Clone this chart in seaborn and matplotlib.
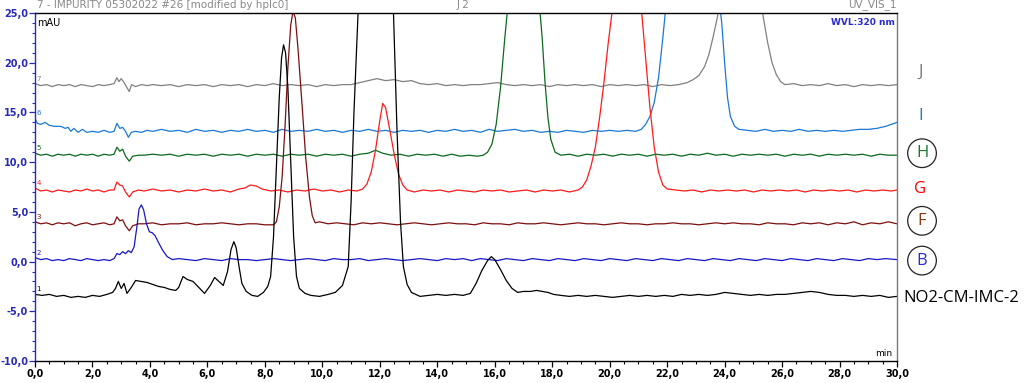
import pandas as pd
import matplotlib
matplotlib.use("Agg")
import matplotlib.pyplot as plt
from matplotlib.ticker import MultipleLocator, FuncFormatter
import seaborn as sns

# chromatogram traces, (time in min, signal in mAU)
trace_j = [(0.0,17.9),(0.2,17.7),(0.4,17.8),(0.6,17.6),(0.8,17.8),(1.0,17.7),(1.2,17.8),(1.4,17.6),(1.6,17.8),(1.8,17.7),(2.0,17.6),(2.2,17.8),(2.4,17.7),(2.6,17.8),(2.75,17.9),(2.85,18.5),(2.92,18.1),(3.0,18.4),(3.1,18.0),(3.2,17.5),(3.28,17.1),(3.36,17.8),(3.5,17.6),(3.7,17.8),(3.9,17.7),(4.1,17.8),(4.4,17.7),(4.7,17.8),(5.0,17.6),(5.3,17.8),(5.6,17.7),(5.9,17.8),(6.2,17.6),(6.5,17.8),(6.8,17.7),(7.1,17.8),(7.4,17.6),(7.7,17.8),(8.0,17.7),(8.3,17.9),(8.6,17.7),(8.9,17.8),(9.2,17.7),(9.5,17.8),(9.8,17.6),(10.1,17.8),(10.4,17.7),(10.7,17.8),(11.0,17.8),(11.3,18.0),(11.6,18.2),(11.9,18.4),(12.2,18.2),(12.5,18.3),(12.8,18.1),(13.1,18.2),(13.4,17.9),(13.7,17.8),(14.0,17.9),(14.3,17.7),(14.6,17.8),(14.9,17.7),(15.2,17.8),(15.5,17.8),(15.8,17.9),(16.1,18.0),(16.4,17.8),(16.7,17.7),(17.0,17.8),(17.3,17.7),(17.6,17.8),(17.9,17.6),(18.2,17.8),(18.5,17.7),(18.8,17.8),(19.1,17.7),(19.4,17.8),(19.7,17.6),(20.0,17.8),(20.3,17.7),(20.6,17.8),(20.9,17.7),(21.2,17.8),(21.5,17.6),(21.8,17.8),(22.1,17.7),(22.4,17.8),(22.7,18.0),(22.9,18.3),(23.1,18.7),(23.3,19.6),(23.45,20.8),(23.6,22.6),(23.75,24.6),(23.9,27.5),(24.3,31.0),(24.6,32.0),(24.9,30.0),(25.2,27.0),(25.35,24.5),(25.5,22.0),(25.65,20.0),(25.8,18.8),(25.95,18.1),(26.1,17.8),(26.4,17.9),(26.7,17.7),(27.0,17.8),(27.3,17.7),(27.6,17.9),(27.9,17.7),(28.2,17.8),(28.5,17.6),(28.8,17.8),(29.1,17.7),(29.4,17.8),(29.7,17.7),(30.0,17.8)]

trace_i = [(0.0,14.4),(0.08,13.9),(0.2,13.8),(0.35,14.0),(0.5,13.7),(0.7,13.6),(0.9,13.6),(1.05,13.4),(1.15,13.5),(1.25,13.1),(1.35,13.4),(1.5,13.0),(1.65,13.3),(1.8,13.0),(2.0,13.1),(2.2,13.0),(2.4,13.2),(2.6,13.0),(2.75,13.1),(2.85,13.9),(2.95,13.4),(3.05,13.5),(3.15,13.1),(3.25,12.5),(3.35,13.0),(3.5,13.1),(3.7,13.0),(3.9,13.2),(4.1,13.1),(4.4,13.3),(4.7,13.1),(5.0,13.2),(5.3,13.0),(5.6,13.3),(5.9,13.1),(6.2,13.2),(6.5,13.0),(6.8,13.2),(7.1,13.1),(7.4,13.3),(7.7,13.1),(8.0,13.2),(8.3,13.0),(8.6,13.3),(8.9,13.1),(9.2,13.2),(9.5,13.1),(9.8,13.3),(10.1,13.1),(10.4,13.2),(10.7,13.0),(11.0,13.2),(11.3,13.1),(11.6,13.3),(11.9,13.1),(12.2,13.2),(12.5,13.0),(12.8,13.2),(13.1,13.1),(13.4,13.2),(13.7,13.0),(14.0,13.2),(14.3,13.1),(14.6,13.3),(14.9,13.1),(15.2,13.2),(15.5,13.0),(15.8,13.3),(16.1,13.1),(16.4,13.2),(16.7,13.3),(17.0,13.1),(17.3,13.2),(17.6,13.0),(17.9,13.1),(18.2,13.0),(18.5,13.2),(18.8,13.1),(19.1,13.0),(19.4,13.2),(19.7,13.1),(20.0,13.2),(20.3,13.1),(20.6,13.2),(20.9,13.1),(21.1,13.3),(21.25,13.8),(21.4,14.6),(21.55,16.0),(21.7,18.5),(21.85,22.5),(21.95,25.5),(22.3,33.0),(22.9,36.0),(23.5,31.0),(23.8,26.5),(23.9,24.0),(24.0,20.0),(24.1,16.5),(24.2,14.6),(24.35,13.6),(24.5,13.3),(24.8,13.2),(25.1,13.1),(25.4,13.3),(25.7,13.1),(26.0,13.2),(26.3,13.1),(26.6,13.3),(26.9,13.1),(27.2,13.2),(27.5,13.1),(27.8,13.2),(28.1,13.1),(28.4,13.2),(28.7,13.3),(29.0,13.3),(29.3,13.4),(29.6,13.6),(30.0,14.0)]

trace_h = [(0.0,10.9),(0.2,10.7),(0.4,10.8),(0.6,10.6),(0.8,10.8),(1.0,10.7),(1.2,10.8),(1.4,10.6),(1.6,10.8),(1.8,10.7),(2.0,10.8),(2.2,10.6),(2.4,10.8),(2.6,10.7),(2.75,10.8),(2.85,11.5),(2.95,11.1),(3.05,11.3),(3.15,10.6),(3.28,10.1),(3.4,10.6),(3.6,10.7),(3.8,10.7),(4.1,10.8),(4.4,10.7),(4.7,10.8),(5.0,10.6),(5.3,10.8),(5.6,10.7),(5.9,10.8),(6.2,10.6),(6.5,10.8),(6.8,10.7),(7.1,10.8),(7.4,10.6),(7.7,10.8),(8.0,10.7),(8.3,10.8),(8.6,10.6),(8.9,10.8),(9.2,10.7),(9.5,10.8),(9.8,10.6),(10.1,10.8),(10.4,10.7),(10.7,10.8),(11.0,10.6),(11.3,10.8),(11.6,10.9),(11.85,11.2),(12.1,10.9),(12.4,10.7),(12.7,10.8),(13.0,10.6),(13.3,10.8),(13.6,10.7),(13.9,10.8),(14.2,10.6),(14.5,10.8),(14.8,10.6),(15.1,10.7),(15.4,10.6),(15.6,10.7),(15.75,11.0),(15.9,11.8),(16.05,13.8),(16.2,17.5),(16.35,22.5),(16.45,25.5),(16.7,32.0),(17.0,34.0),(17.3,31.0),(17.55,26.0),(17.65,22.5),(17.75,18.0),(17.85,14.5),(17.95,12.3),(18.1,11.0),(18.3,10.7),(18.6,10.8),(18.9,10.6),(19.2,10.8),(19.5,10.7),(19.8,10.8),(20.1,10.6),(20.4,10.8),(20.7,10.7),(21.0,10.8),(21.3,10.6),(21.6,10.8),(21.9,10.7),(22.2,10.8),(22.5,10.6),(22.8,10.8),(23.1,10.7),(23.4,10.9),(23.7,10.7),(24.0,10.8),(24.3,10.6),(24.6,10.8),(24.9,10.7),(25.2,10.8),(25.5,10.7),(25.8,10.8),(26.1,10.6),(26.4,10.8),(26.7,10.7),(27.0,10.8),(27.3,10.6),(27.6,10.8),(27.9,10.7),(28.2,10.8),(28.5,10.7),(28.8,10.8),(29.1,10.6),(29.4,10.8),(29.7,10.7),(30.0,10.7)]

trace_g = [(0.0,7.4),(0.2,7.1),(0.4,7.2),(0.6,7.0),(0.8,7.2),(1.0,7.1),(1.2,7.0),(1.4,7.2),(1.6,7.1),(1.8,7.3),(2.0,7.1),(2.2,7.2),(2.4,7.0),(2.6,7.2),(2.75,7.2),(2.85,8.0),(2.95,7.7),(3.05,7.6),(3.15,7.0),(3.28,6.5),(3.4,7.0),(3.6,7.2),(3.8,7.1),(4.1,7.3),(4.4,7.1),(4.7,7.2),(5.0,7.0),(5.3,7.2),(5.6,7.1),(5.9,7.3),(6.2,7.1),(6.5,7.2),(6.8,7.0),(7.1,7.3),(7.3,7.4),(7.5,7.7),(7.7,7.6),(7.9,7.3),(8.2,7.1),(8.5,7.2),(8.8,7.0),(9.1,7.2),(9.4,7.1),(9.7,7.3),(10.0,7.1),(10.3,7.2),(10.6,7.0),(10.9,7.2),(11.2,7.1),(11.4,7.3),(11.55,7.8),(11.7,9.0),(11.85,11.2),(12.0,14.2),(12.1,15.9),(12.2,15.5),(12.35,13.2),(12.5,10.8),(12.65,8.8),(12.8,7.7),(12.95,7.2),(13.2,7.0),(13.5,7.2),(13.8,7.1),(14.1,7.2),(14.4,7.0),(14.7,7.2),(15.0,7.1),(15.3,7.0),(15.6,7.2),(15.9,7.1),(16.2,7.2),(16.5,7.0),(16.8,7.1),(17.1,7.2),(17.4,7.0),(17.7,7.2),(18.0,7.1),(18.3,7.2),(18.6,7.0),(18.9,7.2),(19.05,7.5),(19.2,8.2),(19.35,9.6),(19.5,11.5),(19.65,14.5),(19.8,18.0),(19.95,22.0),(20.1,25.5),(20.5,33.0),(20.8,30.0),(21.1,25.5),(21.25,20.5),(21.4,15.5),(21.55,11.5),(21.7,9.0),(21.85,7.7),(22.0,7.3),(22.3,7.2),(22.6,7.1),(22.9,7.2),(23.2,7.0),(23.5,7.2),(23.8,7.1),(24.1,7.2),(24.4,7.1),(24.7,7.2),(25.0,7.0),(25.3,7.2),(25.6,7.1),(25.9,7.2),(26.2,7.1),(26.5,7.2),(26.8,7.0),(27.1,7.2),(27.4,7.1),(27.7,7.2),(28.0,7.1),(28.3,7.2),(28.6,7.0),(28.9,7.2),(29.2,7.1),(29.5,7.2),(29.8,7.1),(30.0,7.2)]

trace_f = [(0.0,4.0),(0.2,3.8),(0.4,3.9),(0.6,3.7),(0.8,3.9),(1.0,3.8),(1.2,3.9),(1.4,3.6),(1.6,3.8),(1.8,3.9),(2.0,3.7),(2.2,3.8),(2.4,3.9),(2.6,3.7),(2.75,3.8),(2.85,4.5),(2.95,4.1),(3.05,4.2),(3.15,3.6),(3.28,3.1),(3.4,3.6),(3.6,3.8),(3.8,3.8),(4.1,3.9),(4.4,3.7),(4.7,3.8),(5.0,3.8),(5.3,3.9),(5.6,3.7),(5.9,3.8),(6.2,3.8),(6.5,3.9),(6.8,3.8),(7.1,3.7),(7.4,3.8),(7.7,3.8),(8.0,3.7),(8.3,3.7),(8.4,4.0),(8.5,5.5),(8.6,8.5),(8.7,13.5),(8.8,19.5),(8.9,23.8),(8.98,25.2),(9.06,24.5),(9.15,21.5),(9.3,15.5),(9.42,10.5),(9.55,6.5),(9.65,4.6),(9.75,3.9),(9.9,4.0),(10.2,3.8),(10.5,3.9),(10.8,3.8),(11.1,3.7),(11.4,3.9),(11.7,3.8),(12.0,3.9),(12.3,3.8),(12.6,3.7),(12.9,3.8),(13.2,3.9),(13.5,3.8),(13.8,3.7),(14.1,3.8),(14.4,3.9),(14.7,3.8),(15.0,3.8),(15.3,3.7),(15.6,3.9),(15.9,3.8),(16.2,3.8),(16.5,3.7),(16.8,3.9),(17.1,3.8),(17.4,3.8),(17.7,3.9),(18.0,3.8),(18.3,3.7),(18.6,3.8),(18.9,3.9),(19.2,3.8),(19.5,3.8),(19.8,3.7),(20.1,3.8),(20.4,3.9),(20.7,3.8),(21.0,3.8),(21.3,3.7),(21.6,3.8),(21.9,3.8),(22.2,3.9),(22.5,3.8),(22.8,3.8),(23.1,3.7),(23.4,3.8),(23.7,3.9),(24.0,3.8),(24.3,3.9),(24.6,3.8),(24.9,3.8),(25.2,3.7),(25.5,3.9),(25.8,3.8),(26.1,3.8),(26.4,3.7),(26.7,3.9),(27.0,3.8),(27.3,3.9),(27.6,3.7),(27.9,3.9),(28.2,3.8),(28.5,4.0),(28.8,3.7),(29.1,3.9),(29.4,3.8),(29.7,4.0),(30.0,3.8)]

trace_b = [(0.0,0.4),(0.2,0.2),(0.4,0.3),(0.6,0.1),(0.8,0.2),(1.0,0.1),(1.2,0.3),(1.4,0.2),(1.6,0.1),(1.8,0.3),(2.0,0.2),(2.2,0.1),(2.4,0.2),(2.6,0.1),(2.75,0.3),(2.85,0.8),(2.95,0.7),(3.05,1.0),(3.15,0.8),(3.25,1.1),(3.35,0.9),(3.45,1.5),(3.55,3.6),(3.62,5.3),(3.7,5.7),(3.78,5.2),(3.88,3.8),(3.98,3.0),(4.08,2.9),(4.18,2.6),(4.3,1.9),(4.45,1.1),(4.6,0.5),(4.78,0.2),(5.0,0.3),(5.3,0.2),(5.6,0.1),(5.9,0.3),(6.2,0.2),(6.5,0.1),(6.8,0.3),(7.1,0.2),(7.4,0.2),(7.7,0.1),(8.0,0.2),(8.3,0.3),(8.6,0.2),(8.9,0.1),(9.2,0.2),(9.5,0.3),(9.8,0.2),(10.1,0.1),(10.4,0.3),(10.7,0.2),(11.0,0.2),(11.3,0.3),(11.6,0.1),(11.9,0.2),(12.2,0.3),(12.5,0.2),(12.8,0.1),(13.1,0.2),(13.4,0.3),(13.7,0.2),(14.0,0.1),(14.3,0.3),(14.6,0.2),(14.9,0.3),(15.2,0.1),(15.5,0.3),(15.8,0.2),(16.1,0.1),(16.4,0.3),(16.7,0.2),(17.0,0.1),(17.3,0.3),(17.6,0.2),(17.9,0.1),(18.2,0.3),(18.5,0.2),(18.8,0.1),(19.1,0.3),(19.4,0.2),(19.7,0.1),(20.0,0.3),(20.3,0.2),(20.6,0.1),(20.9,0.3),(21.2,0.2),(21.5,0.1),(21.8,0.3),(22.1,0.2),(22.4,0.1),(22.7,0.3),(23.0,0.2),(23.3,0.1),(23.6,0.3),(23.9,0.2),(24.2,0.1),(24.5,0.3),(24.8,0.2),(25.1,0.1),(25.4,0.3),(25.7,0.2),(26.0,0.1),(26.3,0.3),(26.6,0.2),(26.9,0.1),(27.2,0.3),(27.5,0.2),(27.8,0.1),(28.1,0.3),(28.4,0.2),(28.7,0.1),(29.0,0.3),(29.3,0.2),(29.6,0.3),(30.0,0.2)]

trace_no2 = [(0.0,-3.3),(0.25,-3.4),(0.5,-3.3),(0.75,-3.5),(1.0,-3.4),(1.25,-3.6),(1.5,-3.5),(1.75,-3.6),(2.0,-3.4),(2.25,-3.5),(2.5,-3.3),(2.7,-3.1),(2.8,-2.7),(2.9,-2.0),(3.0,-2.7),(3.1,-2.2),(3.2,-3.2),(3.35,-2.6),(3.5,-1.9),(3.7,-2.0),(3.9,-2.1),(4.1,-2.3),(4.3,-2.5),(4.5,-2.6),(4.7,-2.8),(4.9,-2.9),(5.0,-2.6),(5.15,-1.5),(5.3,-1.8),(5.5,-2.0),(5.7,-2.6),(5.9,-3.2),(6.1,-2.4),(6.25,-1.6),(6.4,-2.0),(6.55,-2.4),(6.7,-1.0),(6.82,1.2),(6.92,2.0),(7.0,1.4),(7.1,-0.5),(7.2,-2.2),(7.35,-3.0),(7.55,-3.4),(7.75,-3.5),(7.95,-3.1),(8.1,-2.5),(8.2,-1.5),(8.3,2.5),(8.4,9.5),(8.5,16.5),(8.58,20.5),(8.65,21.8),(8.72,21.0),(8.8,17.5),(8.9,10.0),(9.0,2.5),(9.1,-1.5),(9.2,-2.7),(9.4,-3.2),(9.6,-3.4),(9.9,-3.5),(10.2,-3.3),(10.45,-3.1),(10.7,-2.4),(10.9,-0.5),(11.0,6.0),(11.1,15.0),(11.25,25.5),(11.85,42.0),(12.47,25.5),(12.6,13.0),(12.72,4.0),(12.82,-0.5),(12.95,-2.3),(13.1,-3.1),(13.4,-3.5),(13.7,-3.4),(14.0,-3.3),(14.3,-3.4),(14.6,-3.3),(14.9,-3.4),(15.15,-3.2),(15.35,-2.2),(15.55,-0.9),(15.75,0.1),(15.88,0.5),(16.0,0.2),(16.2,-0.8),(16.4,-1.9),(16.6,-2.7),(16.8,-3.1),(17.0,-3.0),(17.25,-3.0),(17.45,-2.9),(17.65,-3.0),(17.85,-3.1),(18.05,-3.3),(18.3,-3.4),(18.6,-3.5),(18.9,-3.4),(19.2,-3.5),(19.5,-3.4),(19.8,-3.5),(20.1,-3.6),(20.4,-3.5),(20.7,-3.4),(21.0,-3.5),(21.3,-3.4),(21.6,-3.5),(21.9,-3.4),(22.2,-3.5),(22.5,-3.3),(22.8,-3.4),(23.1,-3.3),(23.4,-3.4),(23.7,-3.3),(24.0,-3.1),(24.3,-3.2),(24.6,-3.3),(24.9,-3.4),(25.2,-3.3),(25.5,-3.4),(25.8,-3.3),(26.1,-3.3),(26.4,-3.2),(26.7,-3.1),(27.0,-3.0),(27.3,-3.1),(27.6,-3.3),(27.9,-3.4),(28.2,-3.4),(28.5,-3.5),(28.8,-3.4),(29.1,-3.5),(29.4,-3.4),(29.7,-3.6),(30.0,-3.5)]

# sample names (right side), trace numbers (left side), colours
sample_names = ["J", "I", "H", "G", "F", "B", "NO2-CM-IMC-2"]
trace_numbers = ["7", "6", "5", "4", "3", "2", "1"]
line_colors = ["#808080", "#1a78d6", "#0b6a1e", "#ff1a1a", "#7d0f0f", "#1717c8", "#000000"]
label_colors = ["#777777", "#1a7fb8", "#157a2e", "#ff0000", "#8b3a12", "#2a2ad0", "#000000"]
label_levels = [19.1, 14.6, 10.9, 7.3, 4.1, 0.1, -3.7]
circled = ["H", "F", "B"]

traces = [trace_j, trace_i, trace_h, trace_g, trace_f, trace_b, trace_no2]

rows = []
for name, tr in zip(sample_names, traces):
    for t, v in tr:
        rows.append({"sample": name, "min": t, "mAU": v})
df = pd.DataFrame(rows)

sns.set_theme(style="white")
plt.rcParams['font.family'] = ['DejaVu Sans']

fig, ax = plt.subplots(figsize=(10.24, 3.83), dpi=100)
fig.subplots_adjust(left=0.0342, right=0.876, bottom=0.0574, top=0.966)

sns.lineplot(data=df, x="min", y="mAU", hue="sample", hue_order=sample_names,
             palette=dict(zip(sample_names, line_colors)), estimator=None,
             sort=False, legend=False, linewidth=0.9, ax=ax)

ax.set_xlim(0, 30)
ax.set_ylim(-10, 25)
ax.set_xlabel("")
ax.set_ylabel("")

# axes look of the HPLC software
ax.spines["left"].set_color("#2a2ab8")
ax.spines["bottom"].set_color("#000000")
ax.spines["top"].set_color("#000000")
ax.spines["right"].set_color("#7a7a7a")
for s in ax.spines.values():
    s.set_linewidth(1.0)

comma = FuncFormatter(lambda v, p: f"{v:.1f}".replace(".", ","))
ax.xaxis.set_major_locator(MultipleLocator(2))
ax.xaxis.set_minor_locator(MultipleLocator(0.5))
ax.yaxis.set_major_locator(MultipleLocator(5))
ax.yaxis.set_minor_locator(MultipleLocator(1))
ax.xaxis.set_major_formatter(comma)
ax.yaxis.set_major_formatter(comma)
ax.tick_params(axis="x", which="major", direction="out", length=4, width=0.9,
               colors="#000000", labelsize=7, pad=2, bottom=True)
ax.tick_params(axis="x", which="minor", direction="out", length=2, width=0.8,
               color="#000000", bottom=True)
ax.tick_params(axis="y", which="major", direction="out", length=4, width=0.9,
               colors="#2a2ab8", labelsize=7, pad=1, left=True)
ax.tick_params(axis="y", which="minor", direction="out", length=2, width=0.8,
               color="#2a2ab8", left=True)
for lab in ax.get_xticklabels() + ax.get_yticklabels():
    lab.set_fontweight("bold")

# texts inside and above the plot
ax.text(0.003, 0.985, "mAU", transform=ax.transAxes, ha="left", va="top",
        fontsize=7, color="black")
ax.text(0.998, 0.985, "WVL:320 nm", transform=ax.transAxes, ha="right", va="top",
        fontsize=6.5, color="#2a2ad0", fontweight="bold")
ax.text(0.995, 0.01, "min", transform=ax.transAxes, ha="right", va="bottom",
        fontsize=6.5, color="black")
ax.text(0.002, 1.008, "7 - IMPURITY 05302022 #26 [modified by hplc0]",
        transform=ax.transAxes, ha="left", va="bottom", fontsize=7.5, color="#888888")
ax.text(0.496, 1.008, "J 2", transform=ax.transAxes, ha="center", va="bottom",
        fontsize=7.5, color="#888888")
ax.text(1.0, 1.008, "UV_VIS_1", transform=ax.transAxes, ha="right", va="bottom",
        fontsize=7.5, color="#888888")

for num, name, col, tr in zip(trace_numbers, sample_names, line_colors, traces):
    ax.text(0.05, tr[0][1] + 0.2, num, fontsize=5, color=col, ha="left", va="bottom")

# sample names on the right, some circled
for name, col, lvl in zip(sample_names, label_colors, label_levels):
    if name in circled:
        ax.text(1.029, lvl, name, transform=ax.get_yaxis_transform(), ha="center",
                va="center", fontsize=12, color=col, family="Open Sans",
                bbox=dict(boxstyle="circle,pad=0.38", fc="white", ec="#222222", lw=0.9))
    elif len(name) == 1:
        ax.text(1.027, lvl, name, transform=ax.get_yaxis_transform(), ha="center",
                va="center", fontsize=12, color=col, family="Open Sans")
    else:
        ax.text(1.007, lvl, name, transform=ax.get_yaxis_transform(), ha="left",
                va="center", fontsize=12, color=col, family="Open Sans")

plt.savefig("out.png", dpi=100)
